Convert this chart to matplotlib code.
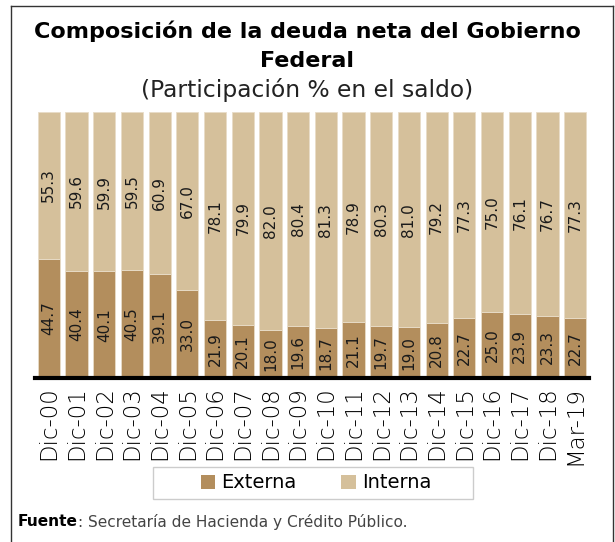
import matplotlib
matplotlib.use("Agg")
import matplotlib.pyplot as plt
from matplotlib.lines import Line2D
from matplotlib.patches import Patch, Rectangle
import numpy as np

categories = ["Dic-00", "Dic-01", "Dic-02", "Dic-03", "Dic-04", "Dic-05", "Dic-06",
              "Dic-07", "Dic-08", "Dic-09", "Dic-10", "Dic-11", "Dic-12", "Dic-13",
              "Dic-14", "Dic-15", "Dic-16", "Dic-17", "Dic-18", "Mar-19"]
externa = [44.7, 40.4, 40.1, 40.5, 39.1, 33.0, 21.9, 20.1, 18.0, 19.6,
           18.7, 21.1, 19.7, 19.0, 20.8, 22.7, 25.0, 23.9, 23.3, 22.7]
interna = [55.3, 59.6, 59.9, 59.5, 60.9, 67.0, 78.1, 79.9, 82.0, 80.4,
           81.3, 78.9, 80.3, 81.0, 79.2, 77.3, 75.0, 76.1, 76.7, 77.3]

c_ext = "#B38E5D"
c_int = "#D5C09B"
plt.rcParams["font.family"] = ["DejaVu Sans"]

W, H = 615, 542
fig = plt.figure(figsize=(W / 100, H / 100), dpi=100)
ax = fig.add_axes([35 / W, 1 - 378 / H, (589 - 35) / W, (378 - 112) / H])

x = np.arange(len(categories))
ax.bar(x, externa, width=0.8, color=c_ext, edgecolor="#e8dcc8", linewidth=0.6)
ax.bar(x, interna, width=0.8, bottom=externa, color=c_int, edgecolor="#e8dcc8", linewidth=0.6)

for i in range(len(categories)):
    ax.text(x[i], externa[i] / 2, f"{externa[i]:.1f}", rotation=90, ha="center", va="center",
            fontsize=11, color="#1a1a1a")
    ax.text(x[i], externa[i] + interna[i] / 2, f"{interna[i]:.1f}", rotation=90, ha="center",
            va="center", fontsize=11, color="#1a1a1a")

ax.set_xlim(-0.5, len(categories) - 0.5)
ax.set_ylim(0, 100)
ax.set_xticks(x)
ax.set_xticklabels(categories, rotation=90, fontsize=16.5, color="black", fontweight="light")
ax.tick_params(axis="x", length=0, pad=6)
ax.set_yticks([])
for s in ["top", "right", "left"]:
    ax.spines[s].set_visible(False)
ax.spines["bottom"].set_linewidth(3)
ax.spines["bottom"].set_color("black")

fig.text(0.5, 1 - 31 / H, "Composición de la deuda neta del Gobierno", ha="center", va="center",
         fontsize=16, fontweight="bold")
fig.text(0.5, 1 - 61 / H, "Federal", ha="center", va="center", fontsize=16, fontweight="bold")
fig.text(0.5, 1 - 90 / H, "(Participación % en el saldo)", ha="center", va="center", fontsize=16.8,
         color="#222222")

# legend frame
fig.add_artist(Rectangle((153 / W, 1 - 499 / H), (473 - 153) / W, (499 - 467) / H,
                         transform=fig.transFigure, facecolor="white", edgecolor="#cccccc", lw=1))
handles = [Patch(facecolor=c_ext, edgecolor="none"), Patch(facecolor=c_int, edgecolor="none")]
leg = fig.legend(handles, ["Externa", "Interna"], loc="center", bbox_to_anchor=(316 / W, 1 - 483 / H),
                 ncol=2, frameon=False, fontsize=14, handlelength=0.75,
                 handleheight=0.75, handletextpad=0.3, columnspacing=2.3, borderpad=0.3,
                 borderaxespad=0)

ft = fig.text(18 / W, 1 - 522 / H, "Fuente", ha="left", va="center", fontsize=11.1, color="black",
              fontweight="bold")
fig.canvas.draw()
r = ft.get_window_extent()
fig.text(r.x1 / W, 1 - 522 / H, ": Secretaría de Hacienda y Crédito Público.", ha="left", va="center",
         fontsize=11.1, color="#444444")

# border frame
fig.add_artist(Line2D([11 / W, 11 / W], [0, 1 - 6 / H], transform=fig.transFigure, color="#333333", lw=1))
fig.add_artist(Line2D([613 / W, 613 / W], [0, 1 - 6 / H], transform=fig.transFigure, color="#333333", lw=1))
fig.add_artist(Line2D([11 / W, 613 / W], [1 - 6 / H, 1 - 6 / H], transform=fig.transFigure, color="#333333", lw=1))

fig.savefig("out.png", dpi=100)
